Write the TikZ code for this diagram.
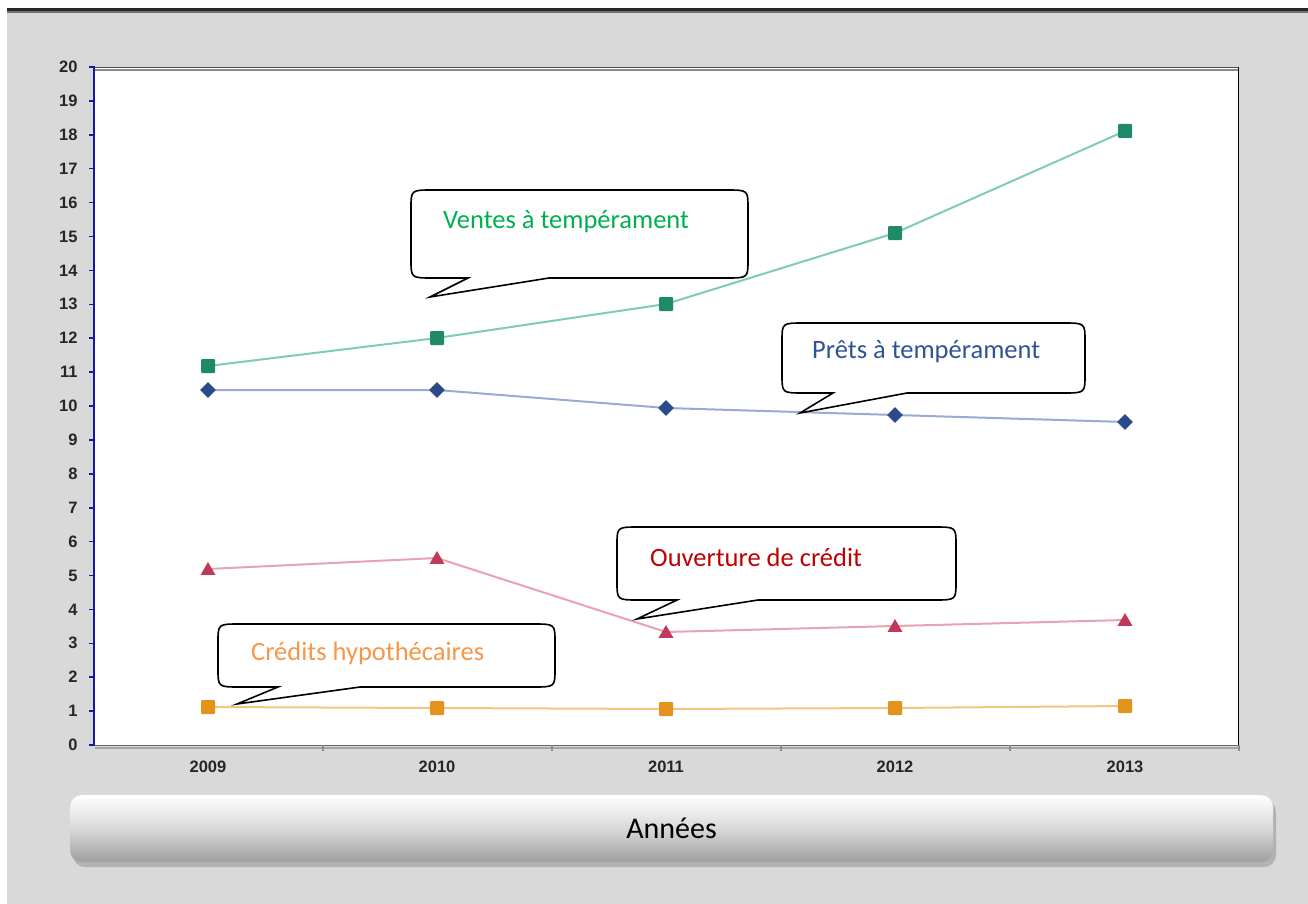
\documentclass[tikz,border=0pt]{standalone}
\usepackage{fontspec}
\setmainfont{Carlito}
\newfontfamily\axfont{Liberation Sans}
\usetikzlibrary{shapes.geometric}
\definecolor{bggray}{HTML}{D9D9D9}
\definecolor{axblue}{HTML}{1A1AA0}
\definecolor{gmark}{HTML}{1E8A6A}
\definecolor{gline}{HTML}{80CCB0}
\definecolor{bmark}{HTML}{2A4A8A}
\definecolor{bline}{HTML}{9AAAD2}
\definecolor{rmark}{HTML}{C0385A}
\definecolor{rline}{HTML}{E8A2B0}
\definecolor{omark}{HTML}{E3921C}
\definecolor{oline}{HTML}{F5C47E}
\definecolor{tgreen}{HTML}{00B050}
\definecolor{tblue}{HTML}{2F5496}
\definecolor{tred}{HTML}{C00000}
\definecolor{torange}{HTML}{F79646}
\definecolor{barbot}{HTML}{9E9E9E}
\tikzset{
  ticklab/.style={font=\axfont\bfseries\fontsize{16.5}{16.5}\selectfont, text=black!85},
  sqmark/.style={draw=none, rectangle, minimum size=14pt, inner sep=0pt, rounded corners=1pt},
  dmmark/.style={draw=none, diamond, minimum size=16pt, inner sep=0pt},
  trmark/.style={draw=none, regular polygon, regular polygon sides=3, minimum size=17pt, inner sep=0pt},
  serline/.style={line width=2pt},
  callbox/.style={draw=black, line width=1.6pt, fill=white, line join=miter},
  calltext/.style={font=\fontsize{26.5}{26.5}\selectfont, anchor=west, inner sep=0pt},
}
% callout: L T R B base1 base2 tipx tipy
\newcommand{\mycallout}[8]{%
  \draw[callbox] (#7,#8) -- (#5,#4) -- ({#1+22},#4) .. controls (#1,#4) .. (#1,{#4-18})
    -- (#1,{#2+18}) .. controls (#1,#2) .. ({#1+22},#2)
    -- ({#3-22},#2) .. controls (#3,#2) .. (#3,{#2+18})
    -- (#3,{#4-18}) .. controls (#3,#4) .. ({#3-22},#4) -- (#6,#4) -- cycle;}
\begin{document}
\begin{tikzpicture}[x=1pt,y=-1pt]
\useasboundingbox (0,0) rectangle (1308,904);
% background
\fill[white] (0,0) rectangle (1308,904);
\fill[bggray] (7,10) rectangle (1308,904);
\draw[black!55, line width=2pt] (7,12) -- (1308,12);
\draw[black!85, line width=2.2pt] (7,9.5) -- (1308,9.5);
% plot area
\fill[white] (93,67) rectangle (1239,745);
\draw[black!45, line width=2pt] (93,70) -- (1239,70);
\draw[black!70, line width=1.6pt] (93,67.5) -- (1239,67.5);
\draw[black, line width=1.6pt] (1238.5,67) -- (1238.5,746);
\draw[black!35, line width=2pt] (95,748) -- (1240,748);
\draw[black!60, line width=1.6pt] (93,745.5) -- (1239,745.5);
\foreach \x in {323,552,781,1010,1239}
  \draw[black!45, line width=1.5pt] (\x,745) -- (\x,751);
% y axis
\draw[axblue, line width=2pt] (94,66) -- (94,746);
\foreach \v in {0,...,20}{
  \draw[axblue, line width=1.6pt] (89,{745-33.9*\v}) -- (94,{745-33.9*\v});
  \node[ticklab, anchor=east] (yl\v) at (81,{745-33.9*\v}) {\v};
}
% x labels
\foreach \yr/\x in {2009/208,2010/437,2011/666,2012/895,2013/1125}
  \node[ticklab] (xl\yr) at (\x,767) {\yr};
% data coordinates
\coordinate (g1) at (208,366); \coordinate (g2) at (437,338); \coordinate (g3) at (666,304);
\coordinate (g4) at (895,233); \coordinate (g5) at (1125,131);
\coordinate (b1) at (208,390); \coordinate (b2) at (437,390); \coordinate (b3) at (666,408);
\coordinate (b4) at (895,415); \coordinate (b5) at (1125,422);
\coordinate (r1) at (208,569); \coordinate (r2) at (437,558); \coordinate (r3) at (666,632);
\coordinate (r4) at (895,626); \coordinate (r5) at (1125,620);
\coordinate (o1) at (208,707); \coordinate (o2) at (437,708); \coordinate (o3) at (666,709);
\coordinate (o4) at (895,708); \coordinate (o5) at (1125,706);
\draw[serline, gline] (g1) -- (g2) -- (g3) -- (g4) -- (g5);
\draw[serline, bline] (b1) -- (b2) -- (b3) -- (b4) -- (b5);
\draw[serline, rline] (r1) -- (r2) -- (r3) -- (r4) -- (r5);
\draw[serline, oline] (o1) -- (o2) -- (o3) -- (o4) -- (o5);
\foreach \k in {1,...,5}{
  \node[sqmark, fill=gmark] (mg\k) at (g\k) {};
  \node[dmmark, fill=bmark] (mb\k) at (b\k) {};
  \node[trmark, fill=rmark] (mr\k) at ([yshift=-1.5pt]r\k) {};
  \node[sqmark, fill=omark] (mo\k) at (o\k) {};
}
% callouts
\mycallout{411}{190}{748}{278}{468}{549}{430}{297}
\node[calltext, text=tgreen] (tv) at (443,222) {Ventes à tempérament};
\mycallout{782}{323}{1085}{393}{833}{907}{800}{413}
\node[calltext, text=tblue] (tp) at (812,352) {Prêts à tempérament};
\mycallout{617}{527}{956}{600}{677}{758}{637}{619}
\node[calltext, text=tred] (to) at (650,557) {Ouverture de crédit};
\mycallout{218}{624}{555}{687}{278}{360}{237}{704}
\node[calltext, text=torange] (tc) at (251,653) {Crédits hypothécaires};
% Années bar
\fill[black!30, rounded corners=12pt] (73,800) rectangle (1276,867);
\shade[top color=white, bottom color=barbot, middle color=black!15, rounded corners=12pt] (70,795) rectangle (1273,862);
\node[font=\fontsize{30}{30}\selectfont, text=black] (an) at (671.5,828) {Années};
\end{tikzpicture}
\end{document}
